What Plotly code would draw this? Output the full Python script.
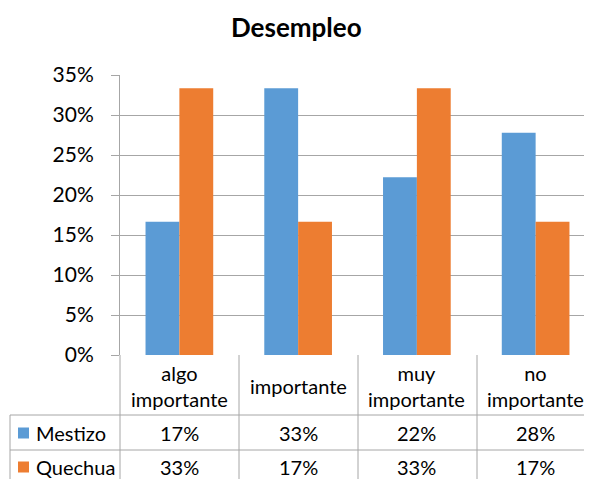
import plotly.graph_objects as go

categories = ['algo<br>importante', 'importante', 'muy<br>importante', 'no<br>importante']
series_names = ['Mestizo', 'Quechua']
mestizo = [16.67, 33.33, 22.22, 27.78]
quechua = [33.33, 16.67, 33.33, 16.67]
colors = ['#5b9bd5', '#ed7d31']
y_ticks = [0, 5, 10, 15, 20, 25, 30, 35]

# the page body adds an 8px margin, so layout coords = reference coords - 8
OFF = 8
W, H = 592, 479
L, T = 120 - OFF, 75 - OFF
PLOT_R, PLOT_B = 595 - OFF, 355 - OFF
R, B = W - PLOT_R, H - PLOT_B
FONT = 'Lato'
GRID = '#a6a6a6'

fig = go.Figure()
for name, vals, col in zip(series_names, [mestizo, quechua], colors):
    fig.add_trace(go.Bar(x=list(range(len(categories))), y=vals, name=name,
                         marker=dict(color=col, line=dict(width=0))))

# reference pixel -> paper helpers
def px(x):
    return (x - OFF - L) / (W - L - R)

def py(y):
    return (H - B - (y - OFF)) / (H - T - B)

cat_w = 119  # pixels per category

shapes = []
line = dict(color=GRID, width=1)
# table horizontal lines
for yy in [415, 450]:
    shapes.append(dict(type='line', xref='paper', yref='paper', x0=px(10), x1=px(600),
                       y0=py(yy), y1=py(yy), line=line))
# table vertical lines
shapes.append(dict(type='line', xref='paper', yref='paper', x0=px(10), x1=px(10),
                   y0=py(415), y1=py(495), line=line))
for i in range(len(categories)):
    xx = 120 + i * cat_w
    shapes.append(dict(type='line', xref='paper', yref='paper', x0=px(xx), x1=px(xx),
                       y0=py(355), y1=py(495), line=line))

txt = dict(family=FONT, color='black')
annotations = []
# title
annotations.append(dict(text='<b>Desempleo</b>', xref='paper', yref='paper',
                        x=px(296), y=py(27), xanchor='center', yanchor='middle',
                        showarrow=False, font=dict(size=26, **txt)))
# category header row
for i, c in enumerate(categories):
    annotations.append(dict(text=c, xref='x', yref='paper', x=i, y=py(386),
                            xanchor='center', yanchor='middle', showarrow=False,
                            font=dict(size=20, **txt)))
# data rows
rows_y = [433, 467]
for r, (name, vals, col) in enumerate(zip(series_names, [mestizo, quechua], colors)):
    yc = rows_y[r]
    shapes.append(dict(type='rect', xref='paper', yref='paper', x0=px(18), x1=px(29),
                       y0=py(yc - 5.5), y1=py(yc + 5.5), fillcolor=col, line=dict(width=0)))
    annotations.append(dict(text=name, xref='paper', yref='paper', x=px(34), y=py(yc),
                            xanchor='left', yanchor='middle', showarrow=False,
                            font=dict(size=20, **txt)))
    for i, v in enumerate(vals):
        annotations.append(dict(text=f'{round(v)}%', xref='x', yref='paper', x=i, y=py(yc),
                                xanchor='center', yanchor='middle', showarrow=False,
                                font=dict(size=20, **txt)))

fig.update_layout(
    width=W, height=H,
    margin=dict(l=L, r=R, t=T, b=B, pad=0),
    paper_bgcolor='white', plot_bgcolor='white',
    barmode='group', bargap=0.43, bargroupgap=0,
    showlegend=False,
    xaxis=dict(range=[-0.5, 3.5], showticklabels=False, showgrid=False,
               zeroline=False, showline=False, ticks=''),
    yaxis=dict(range=[0, 35], tickvals=y_ticks, ticktext=[f'{t}%' for t in y_ticks],
               showgrid=True, gridcolor=GRID, gridwidth=1, zeroline=False,
               showline=True, linecolor=GRID, linewidth=1,
               ticks='outside', ticklen=8, tickcolor=GRID, ticklabelstandoff=13,
               tickfont=dict(size=21, **txt)),
    shapes=shapes, annotations=annotations,
)

fig.write_html('out.html')
